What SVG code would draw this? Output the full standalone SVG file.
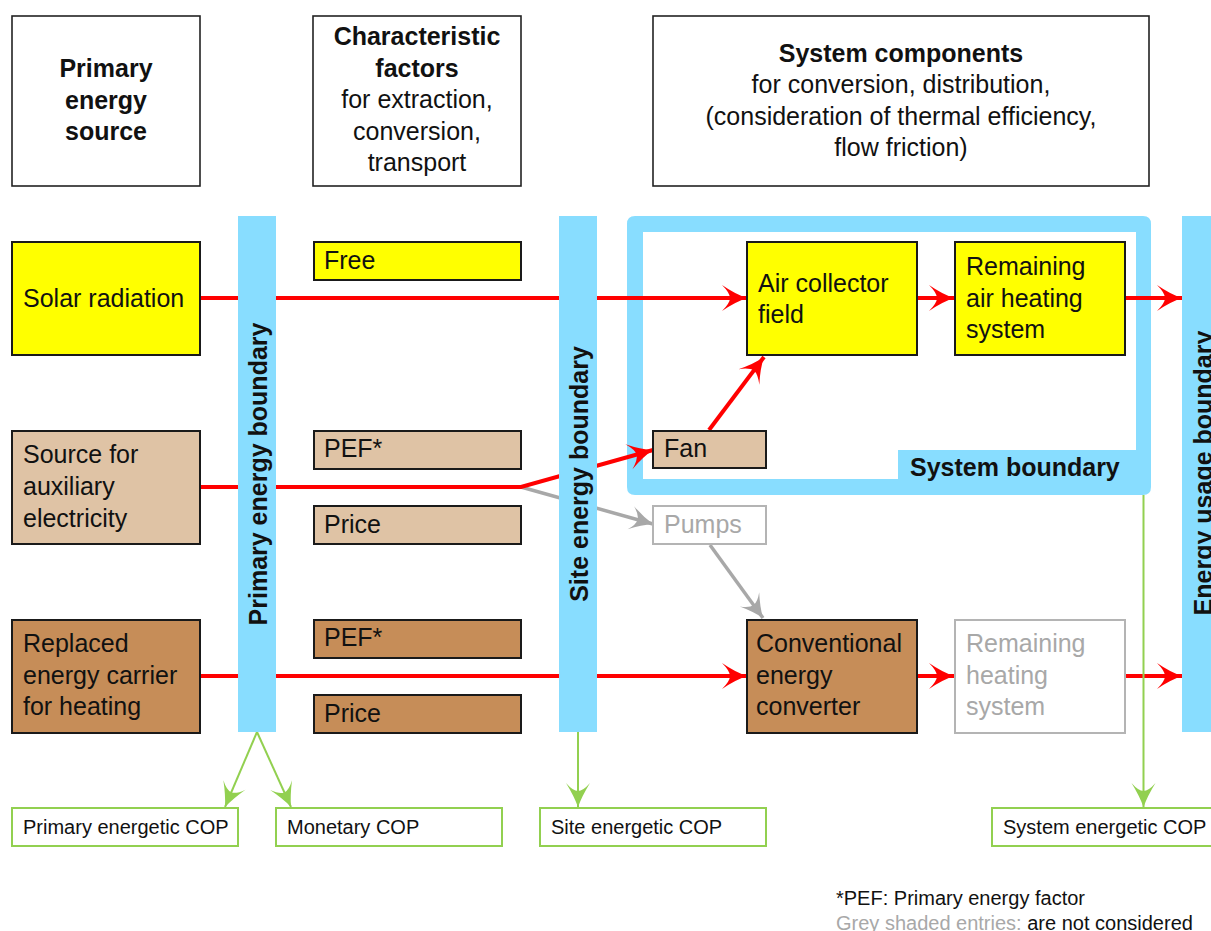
<svg xmlns="http://www.w3.org/2000/svg" width="1211" height="931" viewBox="0 0 1211 931">
  <style>
    text { font-family: "Liberation Sans", Arial, sans-serif; fill: #111; }
    .t { font-size: 25px; }
    .b { font-size: 25px; font-weight: bold; }
    .s { font-size: 20px; }
    .grey { fill: #a8a8a8; }
    .hdr { fill: #fff; stroke: #222; stroke-width: 1.6; }
    .box { stroke: #1a1a1a; stroke-width: 2; }
    .yel { fill: #ffff00; }
    .tan { fill: #dfc3a5; }
    .brn { fill: #c68d58; }
    .gbox { fill: #fff; stroke: #b4b4b4; stroke-width: 2; }
    .cop { fill: #fff; stroke: #92d050; stroke-width: 2; }
    .bar { fill: #88ddff; }
    .red { fill: none; stroke: #ff0000; stroke-width: 4; }
    .gry { fill: none; stroke: #a8a8a8; stroke-width: 3.5; }
    .grn { fill: none; stroke: #92d050; stroke-width: 2; }
  </style>
  <defs>
    <marker id="ah-red" markerUnits="userSpaceOnUse" viewBox="-27 -15 29 30" refX="0" refY="0" markerWidth="29" markerHeight="30" orient="auto">
      <path d="M0,0 Q-12,-4 -25,-13 Q-17,-5 -17,0 Q-17,5 -25,13 Q-12,4 0,0 Z" fill="#ff0000"/>
    </marker>
    <marker id="ah-grey" markerUnits="userSpaceOnUse" viewBox="-27 -15 29 30" refX="0" refY="0" markerWidth="29" markerHeight="30" orient="auto">
      <path d="M0,0 Q-11,-4 -23,-12 Q-16,-5 -16,0 Q-16,5 -23,12 Q-11,4 0,0 Z" fill="#a8a8a8"/>
    </marker>
    <marker id="ah-green" markerUnits="userSpaceOnUse" viewBox="-27 -15 29 30" refX="0" refY="0" markerWidth="29" markerHeight="30" orient="auto">
      <path d="M0,0 Q-11,-4 -24,-12 Q-16,-5 -16,0 Q-16,5 -24,12 Q-11,4 0,0 Z" fill="#92d050"/>
    </marker>
  </defs>

  <!-- column headings -->
  <g id="hdr-source">
    <rect class="hdr" x="12" y="16" width="188" height="170"/>
    <text class="b" text-anchor="middle" x="106" y="77">Primary</text>
    <text class="b" text-anchor="middle" x="106" y="108.5">energy</text>
    <text class="b" text-anchor="middle" x="106" y="140">source</text>
  </g>
  <g id="hdr-factors">
    <rect class="hdr" x="313" y="16" width="208" height="170"/>
    <text class="b" text-anchor="middle" x="417" y="45">Characteristic</text>
    <text class="b" text-anchor="middle" x="417" y="77">factors</text>
    <text class="t" text-anchor="middle" x="417" y="108">for extraction,</text>
    <text class="t" text-anchor="middle" x="417" y="140">conversion,</text>
    <text class="t" text-anchor="middle" x="417" y="171">transport</text>
  </g>
  <g id="hdr-components">
    <rect class="hdr" x="653" y="16" width="496" height="170"/>
    <text class="b" text-anchor="middle" x="901" y="62">System components</text>
    <text class="t" text-anchor="middle" x="901" y="93">for conversion, distribution,</text>
    <text class="t" text-anchor="middle" x="901" y="125">(consideration of thermal efficiency,</text>
    <text class="t" text-anchor="middle" x="901" y="156">flow friction)</text>
  </g>

  <!-- system boundary frame -->
  <g id="system-boundary">
    <path fill="#88ddff" fill-rule="evenodd" d="M635,216 H1143 Q1151,216 1151,224 V487 Q1151,495 1143,495 H635 Q627,495 627,487 V224 Q627,216 635,216 Z M643,232 V479 H898 V450 H1136 V232 Z"/>
    <text class="b" x="910" y="476">System boundary</text>
  </g>

  <!-- flows -->
  <g id="connectors">
    <path class="red" d="M200,298 H747" marker-end="url(#ah-red)"/>
    <path class="red" d="M917,298 H954" marker-end="url(#ah-red)"/>
    <path class="red" d="M1125,298 H1182" marker-end="url(#ah-red)"/>
    <path class="gry" d="M521,487 L653,524" marker-end="url(#ah-grey)"/>
    <path class="red" d="M200,487 H521 L653,450" marker-end="url(#ah-red)"/>
    <path class="red" d="M709,430 L764,357" marker-end="url(#ah-red)"/>
    <path class="gry" d="M710,545 L763,618" marker-end="url(#ah-grey)"/>
    <path class="red" d="M200,676 H747" marker-end="url(#ah-red)"/>
    <path class="red" d="M917,676 H954" marker-end="url(#ah-red)"/>
    <path class="red" d="M1125,676 H1182" marker-end="url(#ah-red)"/>
    <path class="grn" d="M257,732 L225,807" marker-end="url(#ah-green)"/>
    <path class="grn" d="M257,732 L291,807" marker-end="url(#ah-green)"/>
    <path class="grn" d="M578,732 V807" marker-end="url(#ah-green)"/>
    <path class="grn" d="M1143.5,495 V807" marker-end="url(#ah-green)"/>
  </g>

  <!-- boundaries -->
  <g id="primary-boundary">
    <rect class="bar" x="238" y="216" width="38" height="516"/>
    <text class="b" text-anchor="middle" transform="translate(267,474) rotate(-90)">Primary energy boundary</text>
  </g>
  <g id="site-boundary">
    <rect class="bar" x="559" y="216" width="38" height="516"/>
    <text class="b" text-anchor="middle" transform="translate(588,474) rotate(-90)">Site energy boundary</text>
  </g>
  <g id="usage-boundary">
    <rect class="bar" x="1182" y="216" width="40" height="516"/>
    <text class="b" text-anchor="middle" transform="translate(1212,473) rotate(-90)">Energy usage boundary</text>
  </g>

  <!-- sources -->
  <g id="solar">
    <rect class="box yel" x="12" y="242" width="188" height="113"/>
    <text class="t" x="23" y="307">Solar radiation</text>
  </g>
  <g id="aux">
    <rect class="box tan" x="12" y="431" width="188" height="113"/>
    <text class="t" x="23" y="463">Source for</text>
    <text class="t" x="23" y="495">auxiliary</text>
    <text class="t" x="23" y="527">electricity</text>
  </g>
  <g id="replaced">
    <rect class="box brn" x="12" y="620" width="188" height="113"/>
    <text class="t" x="23" y="652">Replaced</text>
    <text class="t" x="23" y="684">energy carrier</text>
    <text class="t" x="23" y="715">for heating</text>
  </g>

  <!-- factors -->
  <g id="free">
    <rect class="box yel" x="314" y="242" width="207" height="38"/>
    <text class="t" x="324" y="269">Free</text>
  </g>
  <g id="pef-aux">
    <rect class="box tan" x="314" y="431" width="207" height="38"/>
    <text class="t" x="324" y="457">PEF*</text>
  </g>
  <g id="price-aux">
    <rect class="box tan" x="314" y="506" width="207" height="38"/>
    <text class="t" x="324" y="533">Price</text>
  </g>
  <g id="pef-heat">
    <rect class="box brn" x="314" y="620" width="207" height="38"/>
    <text class="t" x="324" y="646">PEF*</text>
  </g>
  <g id="price-heat">
    <rect class="box brn" x="314" y="695" width="207" height="38"/>
    <text class="t" x="324" y="722">Price</text>
  </g>

  <!-- components -->
  <g id="air-collector">
    <rect class="box yel" x="747" y="242" width="170" height="113"/>
    <text class="t" x="758" y="292">Air collector</text>
    <text class="t" x="758" y="323">field</text>
  </g>
  <g id="air-heating">
    <rect class="box yel" x="955" y="242" width="170" height="113"/>
    <text class="t" x="966" y="275">Remaining</text>
    <text class="t" x="966" y="307">air heating</text>
    <text class="t" x="966" y="338">system</text>
  </g>
  <g id="fan">
    <rect class="box tan" x="653" y="431" width="113" height="37"/>
    <text class="t" x="664" y="457">Fan</text>
  </g>
  <g id="pumps">
    <rect class="gbox" x="653" y="506" width="113" height="38"/>
    <text class="t grey" x="664" y="533">Pumps</text>
  </g>
  <g id="converter">
    <rect class="box brn" x="747" y="620" width="170" height="113"/>
    <text class="t" x="756" y="652">Conventional</text>
    <text class="t" x="756" y="684">energy</text>
    <text class="t" x="756" y="715">converter</text>
  </g>
  <g id="heating">
    <rect class="gbox" x="955" y="620" width="170" height="113"/>
    <text class="t grey" x="966" y="652">Remaining</text>
    <text class="t grey" x="966" y="684">heating</text>
    <text class="t grey" x="966" y="715">system</text>
  </g>

  <!-- performance figures -->
  <g id="cop-primary">
    <rect class="cop" x="12" y="808" width="226" height="38"/>
    <text class="s" x="23" y="834">Primary energetic COP</text>
  </g>
  <g id="cop-monetary">
    <rect class="cop" x="276" y="808" width="226" height="38"/>
    <text class="s" x="287" y="834">Monetary COP</text>
  </g>
  <g id="cop-site">
    <rect class="cop" x="540" y="808" width="226" height="38"/>
    <text class="s" x="551" y="834">Site energetic COP</text>
  </g>
  <g id="cop-system">
    <rect class="cop" x="992" y="808" width="230" height="38"/>
    <text class="s" x="1003" y="834">System energetic COP</text>
  </g>

  <!-- notes -->
  <g id="notes">
    <text class="s" x="836" y="905">*PEF: Primary energy factor</text>
    <text class="s" x="836" y="930"><tspan class="grey">Grey shaded entries:</tspan> are not considered</text>
  </g>
</svg>
